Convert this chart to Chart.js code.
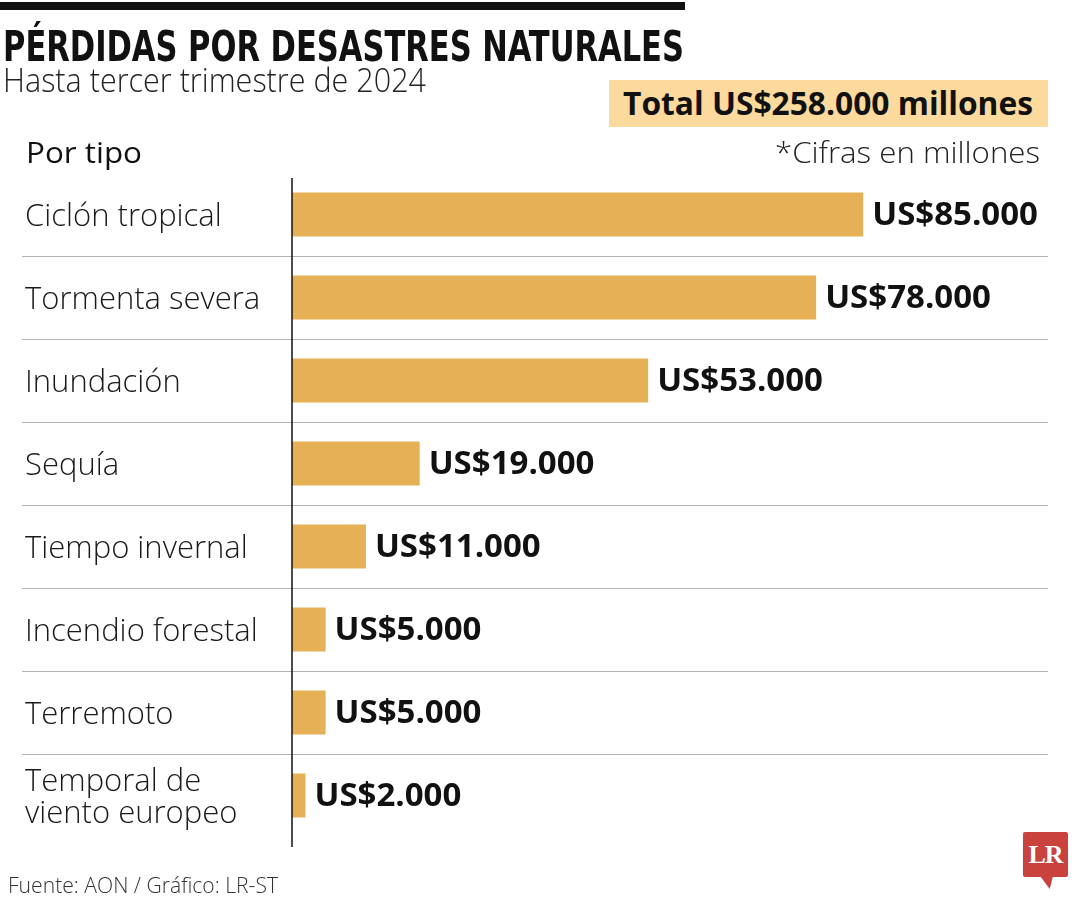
<!DOCTYPE html>
<html lang="es">
<head>
<meta charset="utf-8">
<title>Pérdidas por desastres naturales</title>
<script src="https://cdn.jsdelivr.net/npm/chart.js@4.4.1/dist/chart.umd.min.js"></script>
<style>
  body { margin: 0; background: #fff; }
  #lienzo { position: relative; width: 1080px; height: 900px; overflow: hidden; font-family: 'Open Sans', sans-serif; color: #111; }
  #lienzo canvas { position: absolute; left: 0; top: 0; }
  .txt { position: absolute; white-space: nowrap; line-height: 1; transform-origin: left top; }
  .barra { position: absolute; left: 0; top: 2px; width: 685px; height: 8px; background: #111; }
  .caja { position: absolute; left: 609px; top: 80px; width: 439px; height: 47px; background: #fcd99c; }
  .logo { position: absolute; left: 1023px; top: 832px; width: 45px; height: 45px; background: #c9423d; border-radius: 2px;
          color: #fff; font: 700 26px 'Liberation Serif', 'DejaVu Serif', serif; display: flex; align-items: center; justify-content: center; letter-spacing: -1px; }
  .cola { position: absolute; left: 1040px; top: 876px; width: 13px; height: 13px; background: #c9423d; clip-path: polygon(0 0, 100% 0, 75% 100%); }
</style>
</head>
<body>
<div id="lienzo">
  <canvas id="grafico" width="1080" height="900"></canvas>
  <div class="barra"></div>
  <div class="caja"></div>
  <div class="txt" data-x="3" data-y="61" data-w="681" style="font: 700 42px 'Liberation Sans Narrow', 'DejaVu Sans Condensed', sans-serif;">PÉRDIDAS POR DESASTRES NATURALES</div>
  <div class="txt" data-x="3" data-y="92" data-w="423" style="font: 300 33px 'Open Sans', sans-serif; color:#222;">Hasta tercer trimestre de 2024</div>
  <div class="txt" data-x="623" data-y="115" data-w="410" style="font: 700 32px 'Open Sans', sans-serif;">Total US$258.000 millones</div>
  <div class="txt" data-x="1040" data-y="163" data-w="265" data-align="right" style="font: 300 30px 'Open Sans', sans-serif; color:#222;">*Cifras en millones</div>
  <div class="txt" data-x="26" data-y="163" data-w="116" style="font: 500 30px 'Open Sans', sans-serif;">Por tipo</div>
  <div class="txt" data-x="8" data-y="893" data-w="270" style="font: 300 22px 'Open Sans', sans-serif; color:#333;">Fuente: AON / Gráfico: LR-ST</div>
  <div class="logo">LR</div>
  <div class="cola"></div>
</div>
<script>
// datos del gráfico
const categorias = ['Ciclón tropical', 'Tormenta severa', 'Inundación', 'Sequía', 'Tiempo invernal',
  'Incendio forestal', 'Terremoto', ['Temporal de', 'viento europeo']];
const perdidas = [85000, 78000, 53000, 19000, 11000, 5000, 5000, 2000];
const prefijo = 'US$';

function formatoMiles(v) {
  return String(v).replace(/\B(?=(\d{3})+(?!\d))/g, '.');
}

// coloca cada texto por su línea base y lo ajusta al ancho
function ajustarTextos() {
  document.querySelectorAll('.txt').forEach(el => {
    const marca = document.createElement('span');
    marca.style.cssText = 'display:inline-block;width:0;height:0;vertical-align:baseline';
    el.appendChild(marca);
    const base = marca.offsetTop;
    const ancho = el.getBoundingClientRect().width;
    const x = +el.dataset.x, y = +el.dataset.y, w = +el.dataset.w;
    const escala = w ? w / ancho : 1;
    el.style.top = (y - base) + 'px';
    el.style.left = (el.dataset.align === 'right' ? x - ancho * escala : x) + 'px';
    el.style.transform = `scaleX(${escala})`;
  });
}

// etiquetas de valor y eje vertical
const etiquetasValor = {
  id: 'etiquetasValor',
  afterDatasetsDraw(chart) {
    const ctx = chart.ctx;
    const meta = chart.getDatasetMeta(0);
    ctx.save();
    ctx.font = "700 33px 'Open Sans'";
    ctx.fillStyle = '#111';
    ctx.textBaseline = 'middle';
    meta.data.forEach((barra, i) => {
      ctx.fillText(prefijo + formatoMiles(perdidas[i]), barra.x + 9, barra.y + 1);
    });
    const area = chart.chartArea;
    ctx.strokeStyle = '#111';
    ctx.lineWidth = 1.5;
    ctx.beginPath();
    ctx.moveTo(area.left, area.top + 5);
    ctx.lineTo(area.left, area.bottom + 10);
    ctx.stroke();
    ctx.restore();
  }
};

document.addEventListener('DOMContentLoaded', () => {
  const ctx = document.getElementById('grafico').getContext('2d');
  new Chart(ctx, {
    type: 'bar',
    data: {
      labels: categorias,
      datasets: [{
        data: perdidas,
        backgroundColor: '#e6b056',
        borderWidth: 0,
        barPercentage: 0.53,
        categoryPercentage: 1
      }]
    },
    options: {
      indexAxis: 'y',
      responsive: false,
      animation: false,
      devicePixelRatio: 1,
      layout: { padding: { left: 25, right: 32, top: 173, bottom: 63 } },
      plugins: { legend: { display: false }, tooltip: { enabled: false } },
      scales: {
        x: { display: false, min: 0, max: 112500 },
        y: {
          afterFit: scale => { scale.width = 267; },
          border: { display: false },
          grid: {
            offset: true,
            tickLength: 270,
            lineWidth: 1,
            color: c => (c.index >= 1 && c.index <= 7) ? '#b3b3b3' : 'rgba(0,0,0,0)'
          },
          ticks: {
            crossAlign: 'far',
            padding: 0,
            autoSkip: false,
            labelOffset: 3,
            color: '#1a1a1a',
            font: { family: "'Open Sans'", size: 31, weight: '300', lineHeight: 1.03 }
          }
        }
      }
    },
    plugins: [etiquetasValor]
  });

  if (document.fonts && document.fonts.ready) {
    document.fonts.ready.then(ajustarTextos);
  } else {
    ajustarTextos();
  }
});
</script>
</body>
</html>
